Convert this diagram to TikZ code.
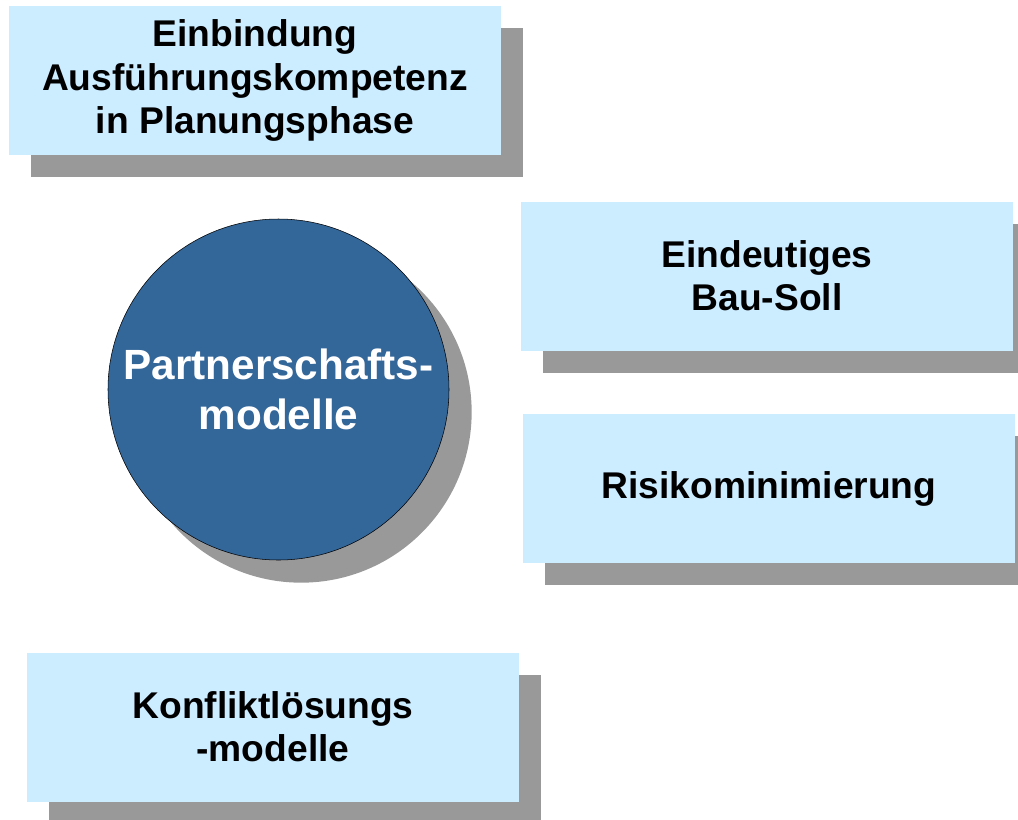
\documentclass[tikz,border=0pt]{standalone}
\usepackage{fontspec}
\setmainfont{Liberation Sans}
\usetikzlibrary{shadows}

\definecolor{boxfill}{RGB}{204,236,255}
\definecolor{circfill}{RGB}{51,102,153}
\definecolor{shadowgray}{RGB}{153,153,153}

\begin{document}
\begin{tikzpicture}[x=0.75pt, y=-0.75pt,
    topic/.style={fill=boxfill, minimum width=369pt, minimum height=111.75pt,
        align=center, font=\fontsize{27.9}{32.4}\selectfont\bfseries,
        general shadow={fill=shadowgray, shadow xshift=16.5pt, shadow yshift=-16.5pt}},
    core/.style={circle, draw=black, thin, fill=circfill, minimum size=255.75pt,
        inner sep=0pt, align=center, text=white,
        font=\fontsize{31.7}{37.5}\selectfont\bfseries,
        general shadow={fill=shadowgray, shadow xshift=17pt, shadow yshift=-17pt}}]
        \useasboundingbox (0,0) rectangle (1018,819);

        % Central circle
        \node[core] (partner) at (278.5,389.5) {Partnerschafts-\\modelle};

        % Surrounding topics
        \node[topic] (einbindung) at (255,80.5) {Einbindung\\Ausführungskompetenz\\in Planungsphase};
        \node[topic] (bausoll) at (767,276) {Eindeutiges\\Bau-Soll};
        \node[topic] (risiko) at (769,488.5) {Risikominimierung};
        \node[topic] (konflikt) at (273,727) {Konfliktlösungs\\-modelle};
    \end{tikzpicture}
\end{document}
